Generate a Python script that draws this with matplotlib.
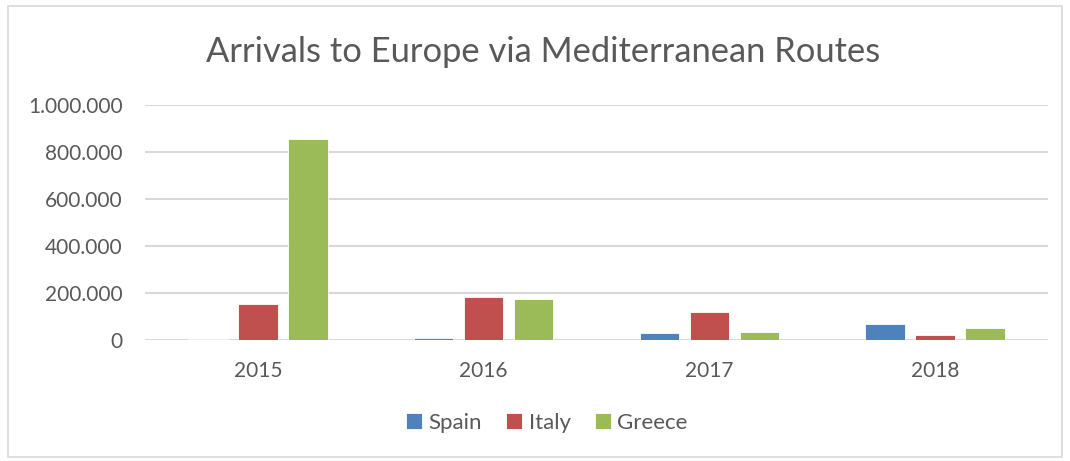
import matplotlib
matplotlib.use("Agg")
import matplotlib.pyplot as plt
import numpy as np
from matplotlib.patches import Rectangle
from matplotlib.ticker import FuncFormatter

years = ["2015", "2016", "2017", "2018"]
series_names = ["Spain", "Italy", "Greece"]
spain = [3845, 10000, 30000, 66000]
italy = [153842, 181436, 119369, 23370]
greece = [856723, 176000, 35000, 50500]
colors = ["#4F81BD", "#C0504D", "#9BBB59"]
yticks = [0, 200000, 400000, 600000, 800000, 1000000]

plt.rcParams['font.family'] = ['Lato', 'DejaVu Sans']
fig = plt.figure(figsize=(10.70, 4.61), dpi=100)
ax = fig.add_axes([145/1070, 1-340/461, (1048-145)/1070, (340-105)/461])

x = np.arange(len(years))
width = 0.175
offs = [-0.222, 0.0, 0.222]
for vals, c, o, name in zip([spain, italy, greece], colors, offs, series_names):
    ax.bar(x + o, vals, width, color=c, edgecolor="white", linewidth=0.6, label=name, zorder=3)

ax.set_xlim(-0.5, 3.5)
ax.set_ylim(0, 1000000)
ax.set_yticks(yticks)
ax.yaxis.set_major_formatter(FuncFormatter(lambda v, p: f"{int(v):,}".replace(",", ".")))
ax.set_xticks(x)
ax.set_xticklabels(years)
ax.grid(axis="y", color="#D9D9D9", linewidth=1.5, zorder=0)
ax.set_axisbelow(True)
for s in ax.spines.values():
    s.set_visible(False)
ax.tick_params(axis="both", length=0, labelsize=15, colors="#595959")
ax.tick_params(axis="y", pad=16)
ax.tick_params(axis="x", pad=15)

fig.text(543/1070, 1-52/461, "Arrivals to Europe via Mediterranean Routes",
         ha="center", va="center", fontsize=24.8, color="#595959")

handles, labels = ax.get_legend_handles_labels()
leg = fig.legend(handles, labels, loc="center", bbox_to_anchor=(547/1070, 1-423/461), ncol=3,
                 frameon=False, fontsize=16, handlelength=0.7, handleheight=0.7,
                 columnspacing=1.1, handletextpad=0.3)
for t in leg.get_texts():
    t.set_color("#595959")

fig.patches.append(Rectangle((8/1070, 4/461), 1-16/1070, 1-10/461, transform=fig.transFigure,
                             fill=False, edgecolor="#D9D9D9", linewidth=1.2))

fig.savefig("out.png", dpi=100)
